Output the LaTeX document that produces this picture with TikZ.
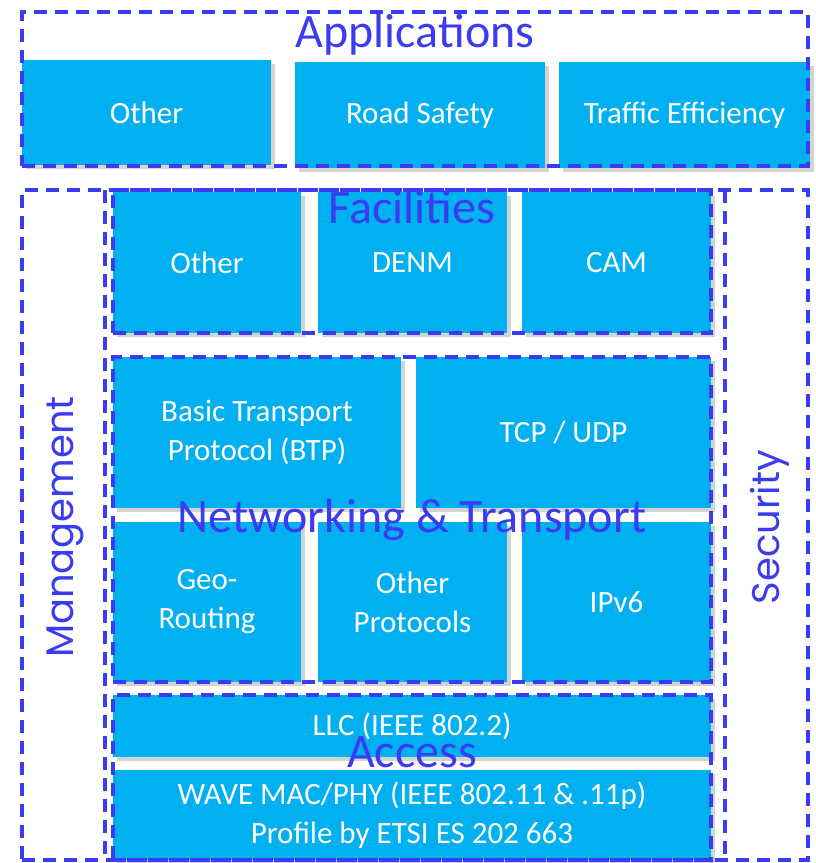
\documentclass[tikz,border=0pt]{standalone}
\usepackage{fontspec}
\setmainfont{Carlito}
\newfontfamily\sidefont{Poppins}
\usetikzlibrary{shadows}
\definecolor{boxcol}{HTML}{00B0F0}
\definecolor{framecol}{HTML}{3B3BF2}
\tikzset{bx/.style = {rectangle, fill=boxcol, text=white, inner sep=0pt, align=center,
                      font=\fontsize{31}{39}\selectfont,
                      drop shadow={shadow xshift=4pt, shadow yshift=-4pt, opacity=0.35}},
         fr/.style = {rectangle, draw=framecol, line width=3.5pt, dash pattern=on 13pt off 8pt, inner sep=0pt},
         dl/.style = {draw=framecol, line width=3.5pt, dash pattern=on 13pt off 8pt},
         lb/.style = {text=framecol, inner sep=0pt, font=\fontsize{48}{48}\selectfont},
         sd/.style = {text=framecol, inner sep=0pt, font=\sidefont\fontsize{38.5}{38.5}\selectfont, rotate=90},
         sz/.style 2 args = {minimum width=#1pt, minimum height=#2pt}}

\begin{document}
\begin{tikzpicture}[x=1pt, y=-1pt]
    \useasboundingbox (0,0) rectangle (815,863);
    \node[bx, sz={249}{105}] (aoth) at (146.5,112.5) {Other};
    \node[bx, sz={250}{106}] (road) at (420,115) {Road Safety};
    \node[bx, sz={251}{106}] (traf) at (684.5,115) {Traffic Efficiency};
    \node[bx, sz={188}{141}] (foth) at (207,262.5) {Other};
    \node[bx, sz={189}{141}] (denm) at (412.5,262.5) {DENM};
    \node[bx, sz={189}{141}] (cam)  at (616.5,262.5) {CAM};
    \node[bx, sz={288}{151}] (btp)  at (257,432.5) {Basic Transport\\Protocol (BTP)};
    \node[bx, sz={295}{151}] (tcp)  at (563.5,432.5) {TCP / UDP};
    \node[bx, sz={188}{160}] (geo)  at (207,602) {Geo-\\Routing};
    \node[bx, sz={189}{160}] (noth) at (412.5,602) {Other\\Protocols};
    \node[bx, sz={189}{160}] (ipv6) at (616.5,602) {IPv6};
    \node[bx, sz={598}{62}]  (llc)  at (412,726) {LLC (IEEE 802.2)};
    \node[bx, sz={598}{90}]  (wave) at (412,815) {WAVE MAC/PHY (IEEE 802.11 \& .11p)\\Profile by ETSI ES 202 663};
    \node[fr, sz={786}{154}] (app)  at (415,89) {};
    \node[fr, sz={786}{670}] (stack) at (415,525) {};
    \coordinate (m1) at (105,190); \coordinate (m2) at (105,860);
    \coordinate (s1) at (725,190); \coordinate (s2) at (725,860);
    \draw[dl] (m1) -- (m2);
    \draw[dl] (s1) -- (s2);
    \node[fr, sz={598}{143}] (fac)  at (412,261.5) {};
    \node[fr, sz={598}{325}] (net)  at (412,519.5) {};
    \node[fr, sz={598}{165}] (acc)  at (412,777.5) {};
    \node[lb] (appl) at (415,35) {Applications};
    \node[lb] (facl) at (412,207) {Facilities};
    \node[lb] (netl) at (412,520) {Networking \& Transport};
    \node[lb] (accl) at (412,752) {Access};
    \node[sd] (mgml) at (65,527) {Management};
    \node[sd] (secl) at (770,527) {Security};
\end{tikzpicture}
\end{document}
